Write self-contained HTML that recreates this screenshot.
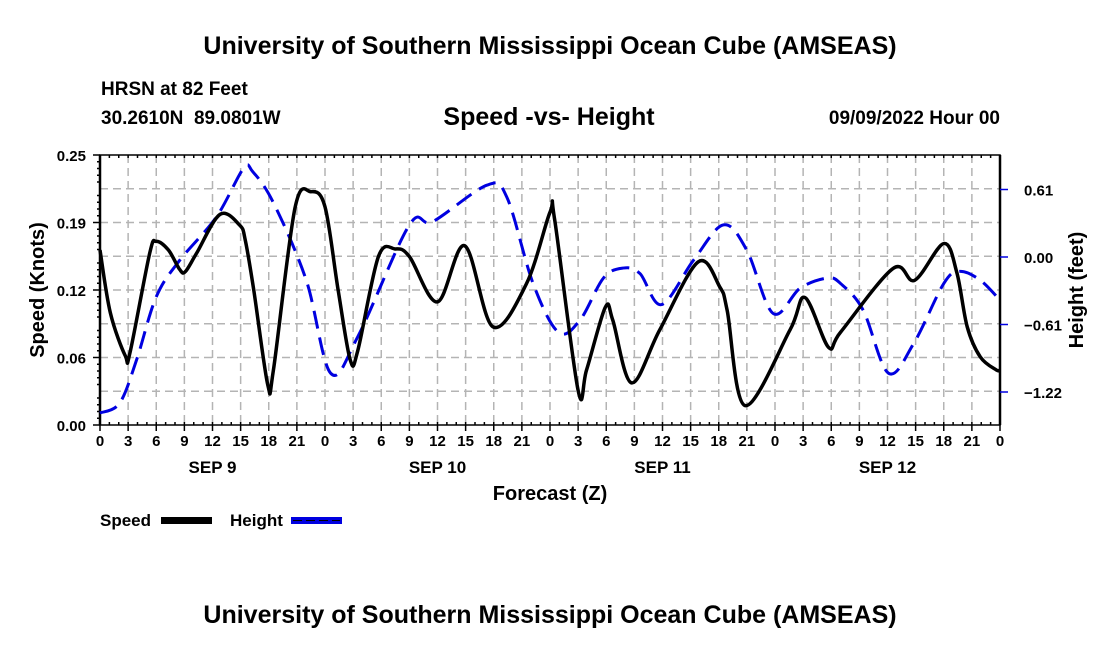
<!DOCTYPE html>
<html><head><meta charset="utf-8"><style>
body{margin:0;background:#fff;}
svg text{font-family:"Liberation Sans",Arial,sans-serif;font-weight:bold;fill:#000;}
</style></head><body>
<svg id="chart" width="1100" height="650" xmlns="http://www.w3.org/2000/svg">
<text x="550" y="54" font-size="25" text-anchor="middle">University of Southern Mississippi Ocean Cube (AMSEAS)</text>
<text x="101" y="95" font-size="19">HRSN at 82 Feet</text>
<text x="101" y="124" font-size="19" xml:space="preserve">30.2610N  89.0801W</text>
<text x="549" y="125" font-size="25" text-anchor="middle">Speed -vs- Height</text>
<text x="1000" y="124" font-size="19" text-anchor="end">09/09/2022 Hour 00</text>
<g id="grid"></g>
<g id="axes"></g>
<g id="series"></g>
<text transform="translate(44,290) rotate(-90)" font-size="20" text-anchor="middle">Speed (Knots)</text>
<text transform="translate(1083,290) rotate(-90)" font-size="20" text-anchor="middle">Height (feet)</text>
<text x="550" y="500" font-size="20" text-anchor="middle">Forecast (Z)</text>
<g>
<text x="100" y="526" font-size="17">Speed</text>
<rect x="161" y="517" width="51" height="7" fill="#000"/>
<text x="230" y="526" font-size="17">Height</text>
<rect x="291" y="517" width="51" height="7" fill="#0000e0"/>
<line x1="293" y1="520.5" x2="340" y2="520.5" stroke="#000" stroke-width="1" stroke-dasharray="9,4"/>
</g>
<text x="550" y="623" font-size="25" text-anchor="middle">University of Southern Mississippi Ocean Cube (AMSEAS)</text>
</svg>
<script>
const speedHours=[0,1.1,2.7,3.2,5.3,6,7.3,8.5,9.1,10.3,12.8,14.9,15.5,16.4,17.9,18.5,20.8,22.5,24,25.4,26.7,27.5,29.7,31.5,33,36,38.9,41.9,45.5,48,48.5,51,51.9,53.9,54.7,56.7,59.7,63.8,66.1,66.9,68.8,73.6,75.2,77.7,79,84.6,86.9,90,91.4,92.5,93.9,95.6,96];
const speedValues=[0.162,0.104,0.064,0.067,0.159,0.17,0.162,0.144,0.142,0.159,0.195,0.185,0.171,0.125,0.037,0.051,0.201,0.216,0.202,0.125,0.06,0.069,0.156,0.163,0.156,0.114,0.166,0.091,0.131,0.197,0.19,0.032,0.051,0.109,0.097,0.039,0.088,0.151,0.128,0.106,0.018,0.088,0.118,0.072,0.086,0.145,0.134,0.168,0.141,0.091,0.063,0.051,0.051];
const heightHours=[0,2.1,3.9,6,8.5,12.4,15.3,16.3,18.5,22,24.6,27.5,33,35.5,41.3,43.4,46.2,48.9,51.2,53.7,55.8,57.6,59.9,63.3,66.5,69,71.8,74.7,77.6,79,81.4,84.1,86.8,90,91.7,93.9,96];
const heightValues=[-1.41,-1.32,-0.93,-0.36,-0.03,0.36,0.8,0.77,0.49,-0.21,-1.05,-0.72,0.29,0.32,0.65,0.54,-0.24,-0.68,-0.57,-0.19,-0.1,-0.15,-0.43,-0.03,0.29,0.06,-0.51,-0.28,-0.19,-0.24,-0.48,-1.05,-0.78,-0.24,-0.13,-0.21,-0.39];
const speedTicks=["0.00","0.06","0.12","0.19","0.25"];
const speedTickValues=[0,0.0625,0.125,0.1875,0.25];
const heightTicks=["0.61","0.00","\u22120.61","\u22121.22"];
const heightTickValues=[0.61,0,-0.61,-1.22];
const xTickLabels=["0","3","6","9","12","15","18","21"];
const dayLabels=["SEP 9","SEP 10","SEP 11","SEP 12"];

const L=100,R=1000,T=155,B=425;
const xs=h=>L+h*(R-L)/96;
const ys=v=>B-v*(B-T)/0.25;
const yh=v=>257-v*(67.5/0.61);
const NS="http://www.w3.org/2000/svg";
function mk(tag,attrs,parent){const e=document.createElementNS(NS,tag);for(const k in attrs)e.setAttribute(k,attrs[k]);parent.appendChild(e);return e;}
const grid=document.getElementById('grid'),axes=document.getElementById('axes'),series=document.getElementById('series');
for(let i=1;i<32;i++){const l=mk('line',{x1:xs(i*3),x2:xs(i*3),y1:T,y2:B,stroke:'#b4b4b4','stroke-width':1.5,'stroke-dasharray':'8,5'},grid);

}
for(let i=1;i<8;i++){const y=T+i*(B-T)/8;const l=mk('line',{x1:L,x2:R,y1:y,y2:y,stroke:'#b4b4b4','stroke-width':1.5,'stroke-dasharray':'8,5'},grid);

}
const fr=mk('rect',{x:L,y:T,width:R-L,height:B-T,fill:'none',stroke:'#000','stroke-width':1.5},axes);


mk('line',{x1:L,x2:L,y1:T,y2:B,stroke:'#000','stroke-width':2.5},axes);
mk('line',{x1:R,x2:R,y1:T,y2:B,stroke:'#000','stroke-width':2.5},axes);
for(let h=0;h<=96;h++){const x=xs(h);const maj=h%3===0;
mk('line',{x1:x,x2:x,y1:B,y2:B+(maj?6:0),stroke:'#000','stroke-width':1.5},axes);
mk('line',{x1:x,x2:x,y1:B,y2:B-3,stroke:'#000','stroke-width':1.5},axes);
mk('line',{x1:x,x2:x,y1:T,y2:T+3,stroke:'#000','stroke-width':1.5},axes);
if(maj){const t=mk('text',{x:x,y:446,'font-size':15,'text-anchor':'middle'},axes);t.textContent=xTickLabels[(h/3)%8];

}}
dayLabels.forEach((d,i)=>{const t=mk('text',{x:xs(12+24*i),y:473,'font-size':17,'text-anchor':'middle'},axes);t.textContent=d;

});
for(let i=0;i<=40;i++){const y=B-i*(B-T)/40;mk('line',{x1:L-(i%5===0?0:3),x2:L,y1:y,y2:y,stroke:'#000','stroke-width':1.5},axes);}
speedTickValues.forEach((v,i)=>{const y=ys(v);mk('line',{x1:L-7,x2:L,y1:y,y2:y,stroke:'#000','stroke-width':1.5},axes);
const t=mk('text',{x:L-14,y:y+6,'font-size':15,'text-anchor':'end'},axes);t.textContent=speedTicks[i];

});
heightTickValues.forEach((v,i)=>{const y=yh(v);mk('line',{x1:R,x2:R+8,y1:y,y2:y,stroke:'#0000e0','stroke-width':1.5},axes);
const t=mk('text',{x:R+24,y:y+6,'font-size':15,'text-anchor':'start'},axes);t.textContent=heightTicks[i];

});
function smooth(pts){let d='M'+pts[0][0]+','+pts[0][1];for(let i=0;i<pts.length-1;i++){const p0=pts[Math.max(0,i-1)],p1=pts[i],p2=pts[i+1],p3=pts[Math.min(pts.length-1,i+2)];
d+=' C'+(p1[0]+(p2[0]-p0[0])/6)+','+(p1[1]+(p2[1]-p0[1])/6)+' '+(p2[0]-(p3[0]-p1[0])/6)+','+(p2[1]-(p3[1]-p1[1])/6)+' '+p2[0]+','+p2[1];}return d;}
const hp=mk('path',{d:smooth(heightHours.map((h,i)=>[xs(h),yh(heightValues[i])])),fill:'none',stroke:'#0000e0','stroke-width':3,'stroke-dasharray':'18,9'},series);


const sp=mk('path',{d:smooth(speedHours.map((h,i)=>[xs(h),ys(speedValues[i])])),fill:'none',stroke:'#000','stroke-width':3.5},series);


</script>
</body></html>
